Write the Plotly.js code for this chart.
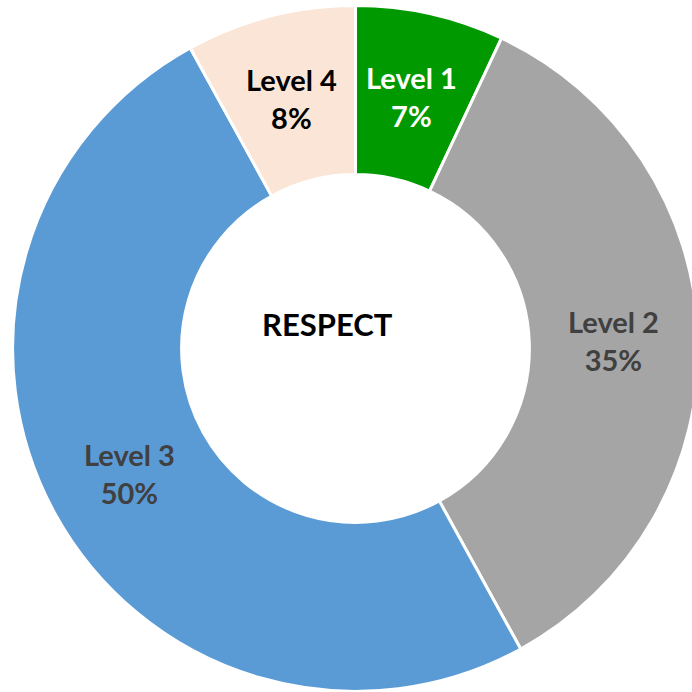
<!DOCTYPE html>
<html>
<head>
<meta charset="utf-8">
<script src="https://cdn.plot.ly/plotly-3.0.1.min.js"></script>
<style>
html,body{margin:0;padding:0;overflow:hidden;background:#fff;}
#chart{width:710px;height:692px;}
</style>
</head>
<body>
<div id="chart"></div>
<script>
const labels = ["Level 1", "Level 2", "Level 3", "Level 4"];
const values = [7, 35, 50, 8];
const colors = ["#009900", "#A5A5A5", "#5B9BD5", "#FBE5D6"];
const textColors = ["#FFFFFF", "#404040", "#404040", "#000000"];
const centerTitle = "RESPECT";

const W = 710, H = 692;
const HOLE = 0.507;
const DOMAIN_X = [0.0176, 0.9838];
const DOMAIN_Y = [0.0007, 0.9921];

const trace = {
  type: "pie",
  labels: labels,
  values: values,
  hole: HOLE,
  sort: false,
  direction: "clockwise",
  rotation: 0,
  marker: {colors: colors, line: {color: "#FFFFFF", width: 3}},
  textinfo: "none",
  domain: {x: DOMAIN_X, y: DOMAIN_Y},
  showlegend: false,
  hoverinfo: "none"
};

// slice labels at the middle of the ring, from the data's cumulative angles
const total = values.reduce((a, b) => a + b, 0);
const cxPx = (DOMAIN_X[0] + DOMAIN_X[1]) / 2 * W;
const cyPx = (DOMAIN_Y[0] + DOMAIN_Y[1]) / 2 * H; // from bottom
const R = Math.min((DOMAIN_X[1] - DOMAIN_X[0]) * W, (DOMAIN_Y[1] - DOMAIN_Y[0]) * H) / 2;
const rMid = R * (1 + HOLE) / 2;
let cum = 0;
const sliceAnnotations = values.map((v, i) => {
  const mid = (cum + v / 2) / total;
  cum += v;
  const th = mid * 2 * Math.PI;
  const x = (cxPx + rMid * Math.sin(th)) / W;
  const y = (cyPx + rMid * Math.cos(th)) / H;
  return {
    text: "<b>" + labels[i] + "<br>" + v + "%</b>",
    x: x, y: y, xref: "paper", yref: "paper",
    xanchor: "center", yanchor: "middle",
    showarrow: false,
    font: {family: "Lato", size: 29, color: textColors[i]}
  };
});

const layout = {
  width: W,
  height: H,
  margin: {l: 0, r: 0, t: 0, b: 0},
  paper_bgcolor: "#FFFFFF",
  showlegend: false,
  annotations: sliceAnnotations.concat([{
    text: "<b>" + centerTitle + "</b>",
    x: 0.4613, y: 0.5325, xref: "paper", yref: "paper",
    xanchor: "center", yanchor: "middle",
    showarrow: false,
    font: {family: "Lato", size: 31, color: "#000000"}
  }])
};

Plotly.newPlot("chart", [trace], layout, {staticPlot: true, displayModeBar: false});
</script>
</body>
</html>
